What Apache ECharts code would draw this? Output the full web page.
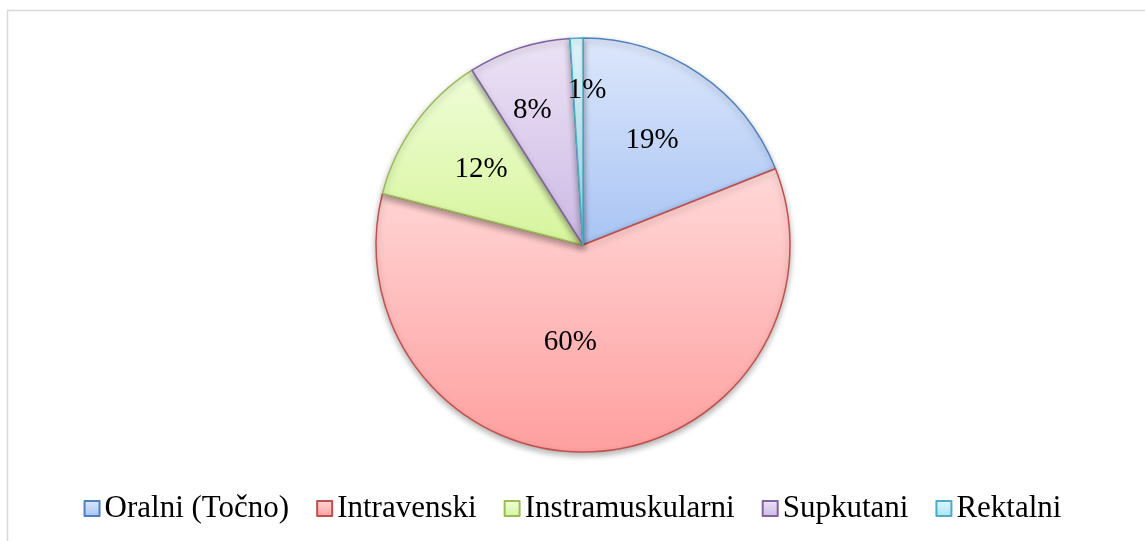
<!DOCTYPE html>
<html>
<head>
<meta charset="utf-8">
<script src="https://cdn.jsdelivr.net/npm/echarts@6/dist/echarts.min.js"></script>
<style>
  html, body { margin: 0; padding: 0; background: #fff; }
  #main { width: 1145px; height: 541px; }
</style>
</head>
<body>
<div id="main"></div>
<script>
// data
var categories = ['Oralni (Točno)', 'Intravenski', 'Instramuskularni', 'Supkutani', 'Rektalni'];
var values = [19, 60, 12, 8, 1];

// colours: border, gradient top, gradient bottom
var borderColors = ['#4f81bd', '#c0504d', '#9bbb59', '#8064a2', '#4bacc6'];
var topColors = ['#dde7fb', '#ffd8d8', '#f0fdd8', '#ece3f5', '#e2f8fe'];
var bottomColors = ['#a8c4f4', '#ff9f9f', '#d6f59c', '#cdb9e5', '#a6e4f6'];

// how far out (share of radius) each label sits, plus small nudges
var labelDist = [0.61, 0.48, 0.62, 0.70, 0.75];
var labelNudgeX = [-2, -19, 2, -6, 9];
var labelNudgeY = [0, -2, 0, 3, 1];

var cx = 583, cy = 245, R = 207;

var pieData = categories.map(function (name, i) {
  return {
    name: name,
    value: values[i],
    itemStyle: {
      borderColor: borderColors[i],
      color: new echarts.graphic.LinearGradient(0, 0, 0, 1, [
        { offset: 0, color: topColors[i] },
        { offset: 1, color: bottomColors[i] }
      ])
    }
  };
});

var myChart = echarts.init(document.getElementById('main'));
myChart.setOption({
  animation: false,
  graphic: [{
    type: 'rect',
    shape: { x: 7.5, y: 10.5, width: 1200, height: 600 },
    style: { fill: 'none', stroke: '#d9d9d9', lineWidth: 1.5 },
    silent: true
  }],
  legend: {
    bottom: 12,
    left: 'center',
    itemWidth: 15,
    itemHeight: 15,
    itemGap: 27,
    icon: 'rect',
    textStyle: { fontFamily: 'Liberation Serif', fontSize: 31, color: '#000' },
    data: categories
  },
  series: [{
    type: 'pie',
    center: [cx, cy],
    radius: R,
    startAngle: 90,
    clockwise: true,
    avoidLabelOverlap: false,
    itemStyle: {
      borderWidth: 1.5,
      shadowBlur: 6,
      shadowOffsetY: 3,
      shadowColor: 'rgba(0,0,0,0.3)'
    },
    emphasis: { disabled: true },
    label: {
      show: true,
      position: 'inside',
      formatter: '{d}%',
      fontFamily: 'Liberation Serif',
      fontSize: 29,
      color: '#000'
    },
    labelLine: { show: false },
    labelLayout: function (params) {
      var r = params.labelRect;
      var i = params.dataIndex;
      var lx = r.x + r.width / 2 - cx;
      var ly = r.y + r.height / 2 - cy;
      var d = Math.sqrt(lx * lx + ly * ly) || 1;
      var k = labelDist[i] * R / d;
      return {
        x: cx + lx * k + labelNudgeX[i],
        y: cy + ly * k + labelNudgeY[i],
        align: 'center',
        verticalAlign: 'middle'
      };
    },
    data: pieData
  }]
});
</script>
</body>
</html>
